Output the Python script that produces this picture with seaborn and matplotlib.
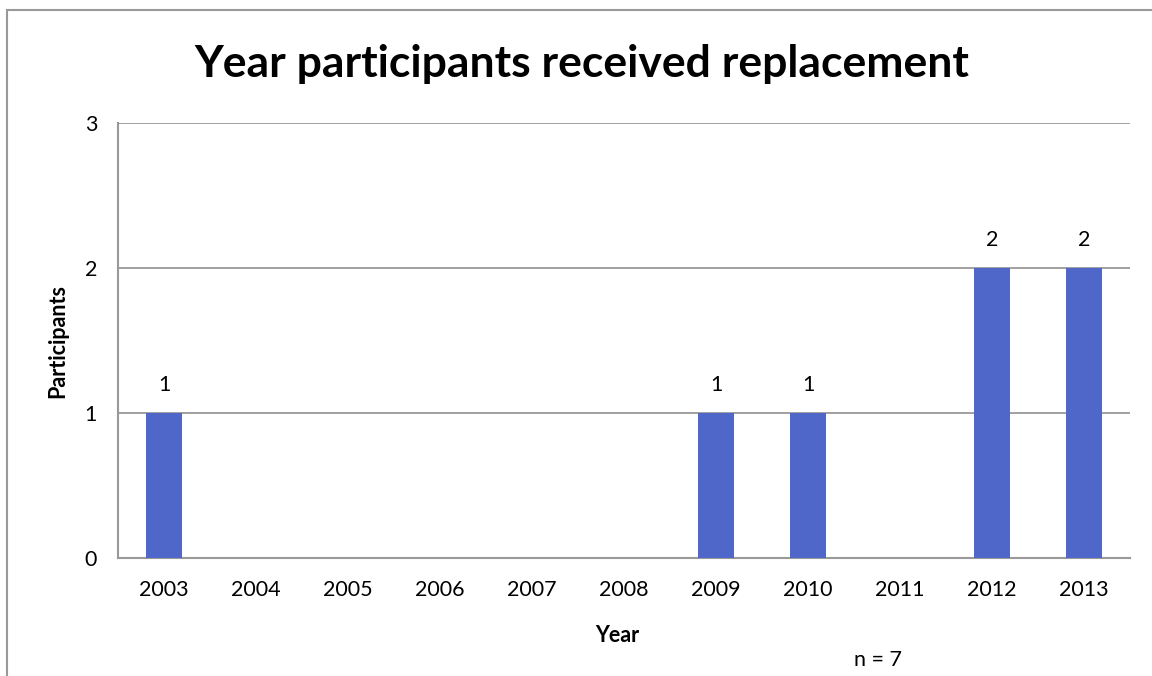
import matplotlib
matplotlib.use("Agg")
import matplotlib.pyplot as plt
import seaborn as sns
import pandas as pd
from matplotlib.patches import Rectangle

years = ["2003", "2004", "2005", "2006", "2007", "2008", "2009", "2010", "2011", "2012", "2013"]
participants = [1, 0, 0, 0, 0, 0, 1, 1, 0, 2, 2]
y_ticks = [0, 1, 2, 3]

sns.set_theme(style="white")
plt.rcParams['font.family'] = ['Lato', 'DejaVu Sans']

df = pd.DataFrame({"Year": years, "Participants": participants})

W, H = 1152, 676
FS = 15.5
fig = plt.figure(figsize=(W / 100, H / 100), dpi=100)
ax = fig.add_axes([118 / W, 1 - 558 / H, (1130 - 118) / W, (558 - 123) / H])

sns.barplot(data=df, x="Year", y="Participants", color="#4F67C8", saturation=1,
            width=0.39, linewidth=0, ax=ax, zorder=3)

ax.set_ylim(0, 3)
ax.set_xlim(-0.5, len(years) - 0.5)
ax.set_yticks(y_ticks)
ax.set_yticklabels([str(t) for t in y_ticks], fontsize=FS)
ax.tick_params(axis="y", length=0, pad=15)
ax.tick_params(axis="x", length=0, pad=16, labelsize=FS)
for t in ax.get_xticklabels() + ax.get_yticklabels():
    t.set_color("black")

for y in y_ticks[1:]:
    ax.axhline(y, color="#999999", lw=1.3, zorder=1)

for s in ["top", "right"]:
    ax.spines[s].set_visible(False)
for s in ["left", "bottom"]:
    ax.spines[s].set_visible(True)
    ax.spines[s].set_color("#999999")
    ax.spines[s].set_linewidth(1.5)

for i, v in enumerate(participants):
    if v > 0:
        ax.annotate(str(v), (i, v), xytext=(0, 20), textcoords="offset points",
                    ha="center", va="center", fontsize=FS, color="black")

ax.set_xlabel("")
ax.set_ylabel("")
fig.text(617 / W, 1 - 635 / H, "Year", ha="center", va="center",
         fontsize=FS, fontweight="bold", color="black")
fig.text(58 / W, 1 - 341 / H, "Participants", ha="center", va="center", rotation=90,
         fontsize=FS, fontweight="bold", color="black")

fig.text(582 / W, 1 - 64 / H, "Year participants received replacement",
         ha="center", va="center", fontsize=32, fontweight="bold", color="black")
fig.text(878 / W, 1 - 660 / H, "n = 7", ha="center", va="center", fontsize=FS, color="black")

fig.patches.append(Rectangle((7 / W, -0.2), 1.2, 1 - 10 / H + 0.2, transform=fig.transFigure,
                             fill=False, edgecolor="#999999", lw=1.5, clip_on=False))

fig.savefig("out.png", dpi=100)
